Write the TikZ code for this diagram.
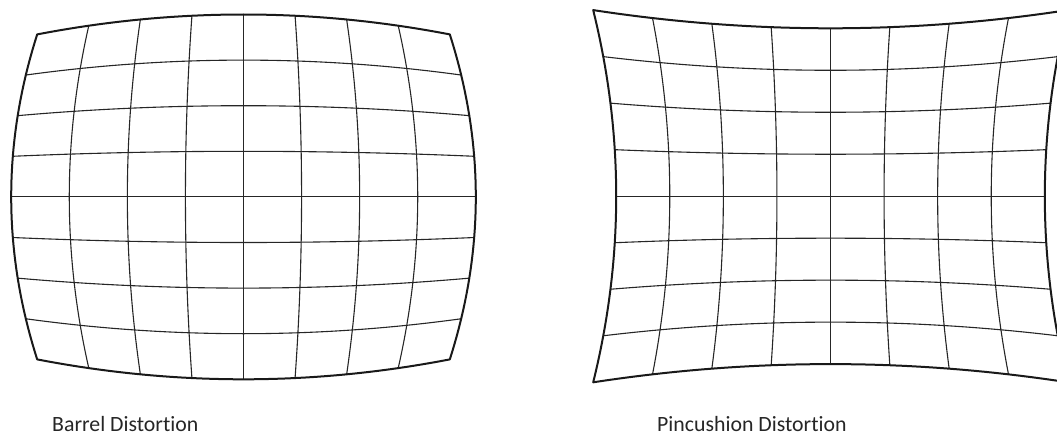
\documentclass[tikz,border=0pt]{standalone}
\usepackage{fontspec}
\setmainfont[Ligatures={NoCommon}]{Carlito}
\newcommand\distgrid[6]{%
  \foreach \u in {-0.75,-0.5,-0.25,0,0.25,0.5,0.75}{%
    \draw[gridline] plot[variable=\t,domain=-1:1,samples=41]
      ({#1+(\u)*(#4+(#3-#4)*(\t)*(\t))},{#2-(\t)*(#6+(#5-#6)*(\u)*(\u))});
    \draw[gridline] plot[variable=\t,domain=-1:1,samples=41]
      ({#1+(\t)*(#4+(#3-#4)*(\u)*(\u))},{#2-(\u)*(#6+(#5-#6)*(\t)*(\t))});
  }
  \draw[border]
    plot[variable=\t,domain=-1:1,samples=41] ({#1+(\t)*#3},{#2-(#6+(#5-#6)*(\t)*(\t))})
    -- plot[variable=\t,domain=1:-1,samples=41] ({#1+(#4+(#3-#4)*(\t)*(\t))},{#2-(\t)*#5})
    -- plot[variable=\t,domain=1:-1,samples=41] ({#1+(\t)*#3},{#2+(#6+(#5-#6)*(\t)*(\t))})
    -- plot[variable=\t,domain=-1:1,samples=41] ({#1-(#4+(#3-#4)*(\t)*(\t))},{#2-(\t)*#5})
    -- cycle;
}
\begin{document}
\begin{tikzpicture}[x=1pt,y=-1pt,
  gridline/.style={line width=1.1pt, black!85, line join=round},
  border/.style={line width=2pt, line join=round, black!90},
  lbl/.style={anchor=base west, inner sep=0pt, font=\fontsize{21.8}{26}\selectfont, text=black!85}]
\useasboundingbox (0,0) rectangle (1057,436);
\distgrid{243.5}{196.9}{206.3}{232.3}{162.5}{182.4}
\distgrid{830.5}{196.2}{237.3}{214.3}{186.1}{167.9}
\node[lbl] (barrel) at (52,431) {Barrel Distortion};
\node[lbl] (pincushion) at (657,431) {Pincushion Distortion};
\end{tikzpicture}
\end{document}
